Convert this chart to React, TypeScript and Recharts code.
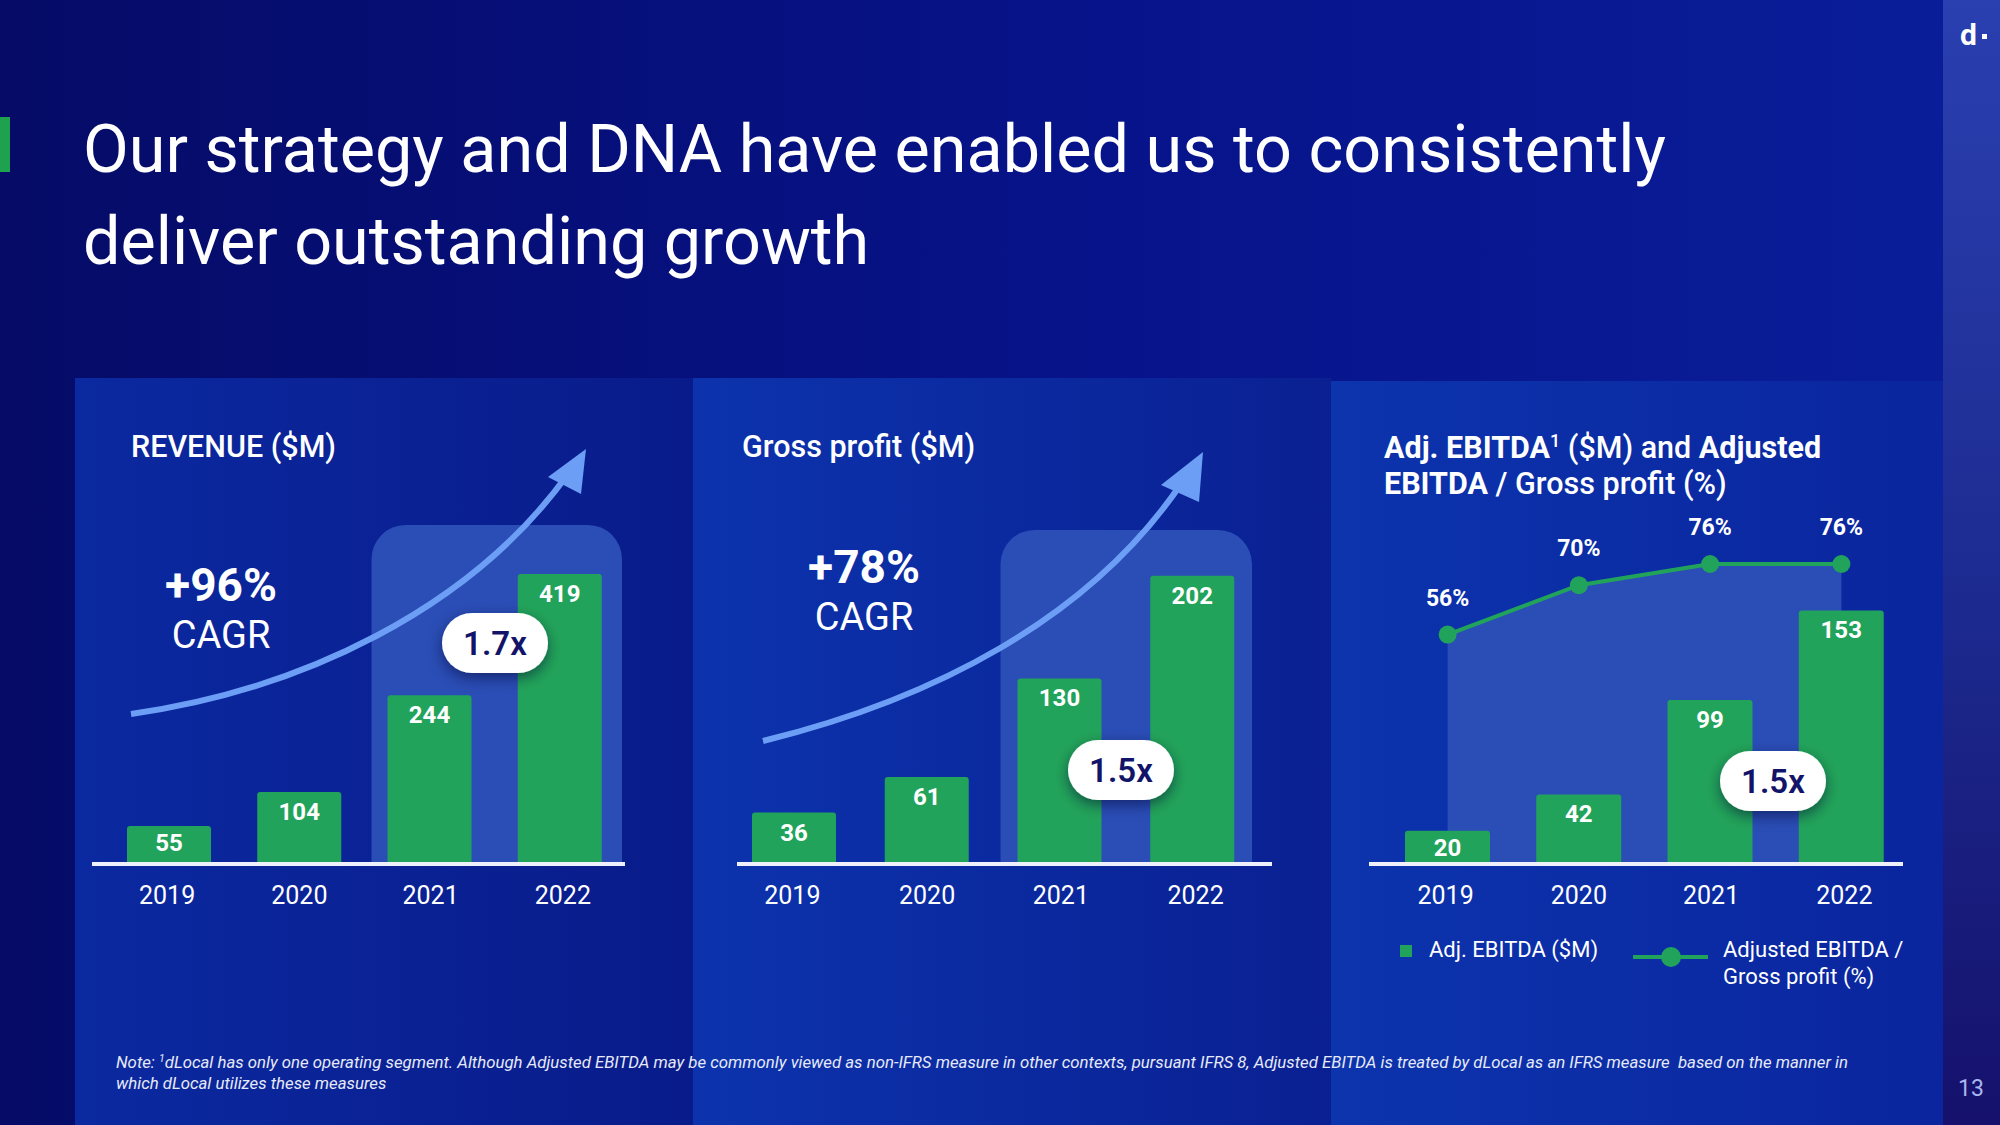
import React from 'react';
import { BarChart, ComposedChart, Bar, Area, XAxis, YAxis, LabelList, ReferenceArea } from 'recharts';

const years = ['2019', '2020', '2021', '2022'];
const revenue = [55, 104, 244, 419];
const grossProfit = [36, 61, 130, 202];
const adjEbitda = [20, 42, 99, 153];
const ebitdaMargin = [56, 70, 76, 76];

const revenueData = years.map((y, i) => ({ year: y, value: revenue[i] }));
const gpData = years.map((y, i) => ({ year: y, value: grossProfit[i] }));
const ebitdaData = years.map((y, i) => ({ year: y, value: adjEbitda[i], pct: ebitdaMargin[i] }));

const FONT = 'Roboto, "Open Sans", sans-serif';
const GREEN = '#22a35b';
const HILITE = '#2a4db6';
const AXIS = '#eef1fb';

const YearTick = (props: any) => {
  const { x, y, payload, index } = props;
  const shift = [-2, 0, 1, 3][index] ?? 0;
  return (
    <text x={Number(x) + shift} y={y + 40} textAnchor="middle" fill="#ffffff" fontSize={25} fontFamily={FONT}>
      {payload.value}
    </text>
  );
};

const BarValueLabel = (props: any) => {
  const { x, y, width, height, value } = props;
  const off = Number(height) < 40 ? 25 : 28;
  return (
    <text x={Number(x) + Number(width) / 2} y={Number(y) + off} textAnchor="middle" fill="#ffffff" fontSize={24} fontWeight={700} fontFamily={FONT}>
      {value}
    </text>
  );
};

const PctLabel = (props: any) => {
  const { x, y, value } = props;
  return (
    <text x={x} y={Number(y) - 29} textAnchor="middle" fill="#ffffff" fontSize={23} fontWeight={700} fontFamily={FONT}>
      {`${value}%`}
    </text>
  );
};

const makeHighlight = (insetL: number, insetR: number) => (props: any) => {
  const { x, y, width, height } = props;
  const x0 = x + insetL;
  const w = width - insetL - insetR;
  const r = 34;
  const d = `M${x0},${y + height} L${x0},${y + r} A${r},${r} 0 0 1 ${x0 + r},${y} L${x0 + w - r},${y} A${r},${r} 0 0 1 ${x0 + w},${y + r} L${x0 + w},${y + height} Z`;
  return <path d={d} fill={HILITE} />;
};
const HighlightRev = makeHighlight(7, 3);
const HighlightGp = makeHighlight(7, 7);

const Pill = ({ cx, cy, label }: { cx: number; cy: number; label: string }) => (
  <g>
    <rect x={cx - 53} y={cy - 30} width={106} height={60} rx={30} fill="#ffffff" filter="url(#pillShadow)" />
    <text x={cx} y={cy + 12} textAnchor="middle" fill="#12146a" fontSize={33} fontWeight={600} fontFamily={FONT}>
      {label}
    </text>
  </g>
);

export default function App() {
  return (
    <div
      style={{
        position: 'absolute',
        left: 0,
        top: 0,
        width: 2000,
        height: 1125,
        overflow: 'hidden',
        background: 'linear-gradient(90deg, #050b66 0%, #07138a 55%, #0a1e9a 100%)',
        fontFamily: FONT,
      }}
    >
      {/* right strip */}
      <div style={{ position: 'absolute', left: 1943, top: 0, width: 57, height: 1125, background: 'linear-gradient(180deg, #2a3fb0 0%, #1d2c92 50%, #15116c 100%)' }} />
      {/* panels */}
      <div style={{ position: 'absolute', left: 75, top: 378, width: 618, height: 747, background: 'linear-gradient(90deg, #0b29a0 0%, #091b8a 100%)' }} />
      <div style={{ position: 'absolute', left: 693, top: 378, width: 638, height: 747, background: 'linear-gradient(90deg, #0c33ad 0%, #0a2092 100%)' }} />
      <div style={{ position: 'absolute', left: 1331, top: 381, width: 612, height: 744, background: 'linear-gradient(90deg, #0c34ad 0%, #0a259e 100%)' }} />

      {/* Revenue chart */}
      <div style={{ position: 'absolute', left: 92, top: 460 }}>
        <BarChart width={533} height={464} data={revenueData} margin={{ top: 65, right: 0, bottom: 0, left: 0 }}>
          <YAxis hide domain={[0, 490]} />
          <XAxis
            dataKey="year"
            height={60}
            tickSize={0}
            tickMargin={0}
            tickLine={false}
            axisLine={{ stroke: AXIS, strokeWidth: 4 }}
            tick={<YearTick />}
            padding={{ left: 12, right: 0 }}
          />
          <ReferenceArea x1="2021" x2="2022" shape={<HighlightRev />} />
          <Bar dataKey="value" fill={GREEN} barSize={84} radius={[3, 3, 0, 0]} isAnimationActive={false}>
            <LabelList dataKey="value" content={<BarValueLabel />} />
          </Bar>
        </BarChart>
      </div>

      {/* Gross profit chart */}
      <div style={{ position: 'absolute', left: 737, top: 460 }}>
        <BarChart width={535} height={464} data={gpData} margin={{ top: 70, right: 0, bottom: 0, left: 0 }}>
          <YAxis hide domain={[0, 234]} />
          <XAxis
            dataKey="year"
            height={60}
            tickSize={0}
            tickMargin={0}
            tickLine={false}
            axisLine={{ stroke: AXIS, strokeWidth: 4 }}
            tick={<YearTick />}
            padding={{ left: -9, right: 13 }}
          />
          <ReferenceArea x1="2021" x2="2022" shape={<HighlightGp />} />
          <Bar dataKey="value" fill={GREEN} barSize={84} radius={[3, 3, 0, 0]} isAnimationActive={false}>
            <LabelList dataKey="value" content={<BarValueLabel />} />
          </Bar>
        </BarChart>
      </div>

      {/* Adj EBITDA chart */}
      <div style={{ position: 'absolute', left: 1369, top: 460 }}>
        <ComposedChart width={534} height={464} data={ebitdaData} margin={{ top: 104, right: 0, bottom: 0, left: 0 }}>
          <YAxis yAxisId="left" hide domain={[0, 181]} />
          <YAxis yAxisId="right" orientation="right" hide domain={[-9, 76]} />
          <XAxis
            dataKey="year"
            height={60}
            tickSize={0}
            tickMargin={0}
            tickLine={false}
            axisLine={{ stroke: AXIS, strokeWidth: 4 }}
            tick={<YearTick />}
            padding={{ left: 13, right: -4 }}
          />
          <Area
            yAxisId="right"
            type="linear"
            dataKey="pct"
            baseValue="dataMin"
            stroke={GREEN}
            strokeWidth={4}
            fill={HILITE}
            fillOpacity={1}
            dot={{ r: 9, fill: GREEN, stroke: 'none' }}
            activeDot={false}
            isAnimationActive={false}
          >
            <LabelList dataKey="pct" content={<PctLabel />} />
          </Area>
          <Bar yAxisId="left" dataKey="value" fill={GREEN} barSize={85} radius={[3, 3, 0, 0]} isAnimationActive={false}>
            <LabelList dataKey="value" content={<BarValueLabel />} />
          </Bar>
        </ComposedChart>
      </div>

      {/* overlay text & decorations */}
      <svg width={2000} height={1125} style={{ position: 'absolute', left: 0, top: 0, pointerEvents: 'none' }}>
        <defs>
          <filter id="pillShadow" x="-40%" y="-60%" width="180%" height="220%">
            <feDropShadow dx="0" dy="5" stdDeviation="7" floodColor="#000025" floodOpacity="0.5" />
          </filter>
        </defs>

        {/* title */}
        <rect x={0} y={117} width={10} height={55} fill="#1fa24f" />
        <text x={83} y={172} fill="#ffffff" fontSize={66.5} fontFamily={FONT}>Our strategy and DNA have enabled us to consistently</text>
        <text x={83} y={264} fill="#ffffff" fontSize={66.5} fontFamily={FONT}>deliver outstanding growth</text>

        {/* logo and page number */}
        <text x={1960} y={45} fill="#ffffff" fontSize={30} fontWeight={700} fontFamily={FONT}>d</text>
        <rect x={1982} y={34} width={5} height={5} fill="#ffffff" />
        <text x={1971} y={1096} textAnchor="middle" fill="#aab6ee" fontSize={23} fontFamily={FONT}>13</text>

        {/* panel titles */}
        <text x={131} y={457} fill="#ffffff" fontSize={30.5} fontWeight={500} fontFamily={FONT}>REVENUE ($M)</text>
        <text x={742} y={457} fill="#ffffff" fontSize={30.5} fontWeight={500} fontFamily={FONT}>Gross profit ($M)</text>
        <text x={1384} y={458} fill="#ffffff" fontSize={30.5} fontFamily={FONT} style={{ whiteSpace: 'pre' }}>
          <tspan fontWeight={700}>Adj. EBITDA</tspan>
          <tspan fontWeight={500} fontSize={18} dy={-11}>1</tspan>
          <tspan fontWeight={500} dy={11}> ($M) and </tspan>
          <tspan fontWeight={700}>Adjusted</tspan>
        </text>
        <text x={1384} y={494} fill="#ffffff" fontSize={30.5} fontFamily={FONT} style={{ whiteSpace: 'pre' }}>
          <tspan fontWeight={700}>EBITDA</tspan>
          <tspan fontWeight={500}> / Gross profit (%)</tspan>
        </text>

        {/* CAGR */}
        <text x={221} y={601} textAnchor="middle" fill="#ffffff" fontSize={46} fontWeight={700} fontFamily={FONT}>+96%</text>
        <text x={221} y={648} textAnchor="middle" fill="#ffffff" fontSize={38} fontFamily={FONT}>CAGR</text>
        <text x={864} y={583} textAnchor="middle" fill="#ffffff" fontSize={46} fontWeight={700} fontFamily={FONT}>+78%</text>
        <text x={864} y={630} textAnchor="middle" fill="#ffffff" fontSize={38} fontFamily={FONT}>CAGR</text>

        {/* arrows */}
        <path d="M131,714 C300,690 470,610 568,474" fill="none" stroke="#6d9ef5" strokeWidth={6} />
        <polygon points="548,477 586,449 581,494" fill="#6d9ef5" />
        <path d="M763,741 C930,700 1090,620 1183,481" fill="none" stroke="#6d9ef5" strokeWidth={6} />
        <polygon points="1161,485 1203,452 1199,502" fill="#6d9ef5" />

        {/* pills */}
        <Pill cx={495} cy={643} label="1.7x" />
        <Pill cx={1121} cy={770} label="1.5x" />
        <Pill cx={1773} cy={781} label="1.5x" />

        {/* legend */}
        <rect x={1400} y={945} width={12} height={12} fill={GREEN} />
        <text x={1429} y={957} fill="#ffffff" fontSize={22} fontFamily={FONT}>Adj. EBITDA ($M)</text>
        <line x1={1633} y1={957} x2={1708} y2={957} stroke={GREEN} strokeWidth={4} />
        <circle cx={1671} cy={957} r={10} fill={GREEN} />
        <text x={1723} y={957} fill="#ffffff" fontSize={22} fontFamily={FONT}>Adjusted EBITDA /</text>
        <text x={1723} y={984} fill="#ffffff" fontSize={22} fontFamily={FONT}>Gross profit (%)</text>

        {/* footnote */}
        <text x={116} y={1068} fill="#e6eaf8" fontSize={16.8} fontStyle="italic" fontFamily={FONT} style={{ whiteSpace: 'pre' }}>
          <tspan>Note: </tspan>
          <tspan fontSize={10.5} dy={-6}>1</tspan>
          <tspan dy={6}>dLocal has only one operating segment. Although Adjusted EBITDA may be commonly viewed as non-IFRS measure in other contexts, pursuant IFRS 8, Adjusted EBITDA is treated by dLocal as an IFRS measure  based on the manner in</tspan>
        </text>
        <text x={116} y={1089} fill="#e6eaf8" fontSize={16.8} fontStyle="italic" fontFamily={FONT}>which dLocal utilizes these measures</text>
      </svg>
    </div>
  );
}
